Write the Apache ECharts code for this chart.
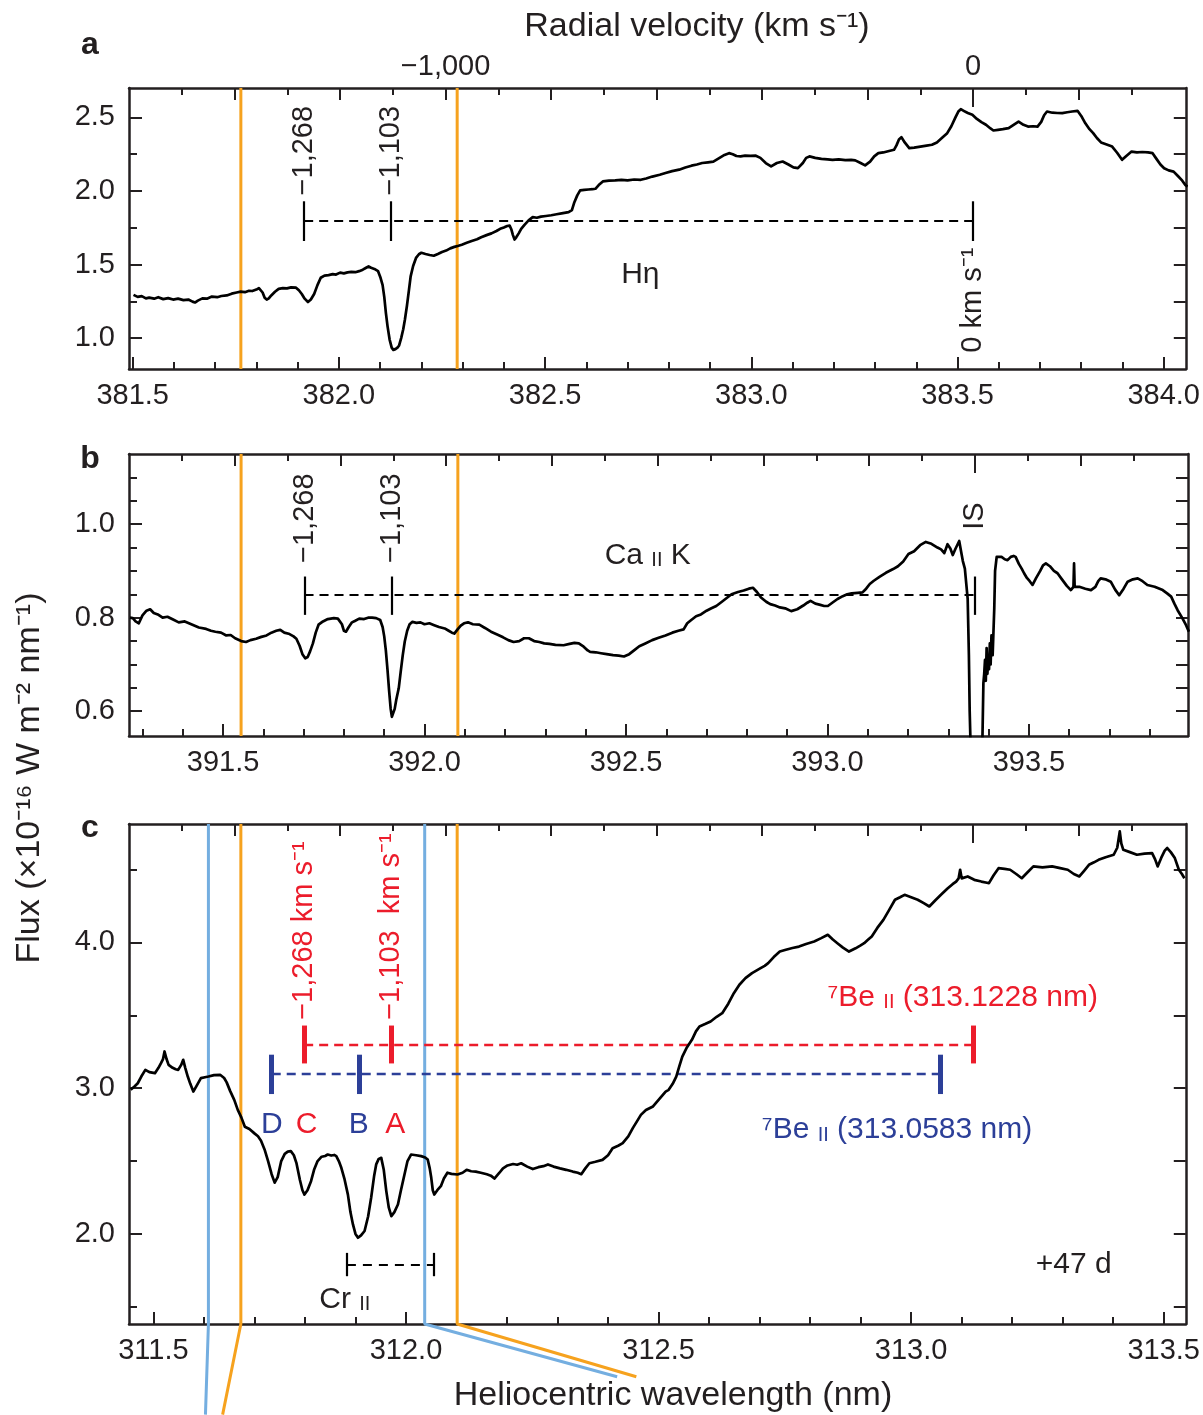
<!DOCTYPE html>
<html><head><meta charset="utf-8">
<script src="https://cdn.jsdelivr.net/npm/echarts@6/dist/echarts.min.js"></script>
<style>html,body{margin:0;padding:0;background:#fff}#chart{width:1203px;height:1415px}</style>
</head><body><div id="chart"></div>
<script>
// ---------- constants & data ----------
const C_KMS = 299792.458;
const REST_HETA = 383.538, REST_CAK = 393.366, REST_BE_RED = 313.1228, REST_BE_BLUE = 313.0583;
const VEL_WINDOW = [-1600, 403];          // km/s at left / right plot edges (all panels aligned)
const VEL_MARKS = [-1268, -1103, 0];      // velocity markers
const VEL_BAND = [-1388, -978];           // orange / blue band
const VEL_TICKS_MAJOR = [-1400, -1200, -1000, -800, -600, -400, -200, 200];
const VEL_TICKS_MINOR = [-1500, -1300, -1100, -900, -700, -500, -300, -100, 100, 300];
const VEL_TICK_ZERO = [0];
const VEL_LABELS = [-1000, 0];

const WL_LAB_A = [381.5, 382.0, 382.5, 383.0, 383.5, 384.0];
const WL_LAB_B = [391.5, 392.0, 392.5, 393.0, 393.5];
const WL_LAB_C = [311.5, 312.0, 312.5, 313.0, 313.5];

const Y_RANGE_A = [0.79, 2.70], Y_LAB_A = [1.0, 1.5, 2.0, 2.5], Y_MINOR_A = [1.25, 1.75, 2.25];
const Y_RANGE_B = [0.547, 1.15], Y_LAB_B = [0.6, 0.8, 1.0], Y_MINOR_B = [0.65, 0.7, 0.75, 0.85, 0.9, 0.95, 1.05, 1.1];
const Y_RANGE_C = [1.382, 4.813], Y_LAB_C = [2.0, 3.0, 4.0], Y_MINOR_C = [1.5, 2.5, 3.5, 4.5];

const SPEC_A = [[381.502,1.294],[381.512,1.28],[381.522,1.285],[381.532,1.27],[381.540,1.275],[381.552,1.268],[381.562,1.278],[381.574,1.265],[381.586,1.272],[381.598,1.262],[381.610,1.268],[381.623,1.258],[381.635,1.262],[381.645,1.248],[381.651,1.242],[381.658,1.255],[381.669,1.27],[381.680,1.268],[381.692,1.282],[381.705,1.278],[381.715,1.286],[381.728,1.29],[381.740,1.302],[381.752,1.31],[381.762,1.316],[381.772,1.312],[381.782,1.322],[381.790,1.32],[381.800,1.33],[381.806,1.34],[381.810,1.35],[381.815,1.31],[381.820,1.275],[381.825,1.262],[381.830,1.27],[381.836,1.29],[381.845,1.315],[381.854,1.335],[381.864,1.34],[381.874,1.338],[381.884,1.345],[381.896,1.343],[381.903,1.325],[381.910,1.30],[381.917,1.268],[381.925,1.245],[381.932,1.262],[381.940,1.3],[381.948,1.36],[381.956,1.41],[381.965,1.425],[381.975,1.428],[381.985,1.435],[381.993,1.432],[382.003,1.445],[382.012,1.44],[382.021,1.447],[382.030,1.45],[382.040,1.448],[382.049,1.455],[382.058,1.465],[382.066,1.478],[382.072,1.487],[382.078,1.478],[382.086,1.47],[382.095,1.455],[382.101,1.41],[382.106,1.36],[382.110,1.28],[382.114,1.17],[382.118,1.08],[382.123,0.99],[382.128,0.935],[382.132,0.92],[382.137,0.925],[382.142,0.935],[382.146,0.95],[382.151,1.0],[382.156,1.06],[382.160,1.125],[382.165,1.22],[382.170,1.33],[382.174,1.42],[382.180,1.49],[382.187,1.545],[382.194,1.57],[382.200,1.58],[382.210,1.572],[382.220,1.565],[382.230,1.56],[382.240,1.572],[382.250,1.585],[382.260,1.595],[382.270,1.61],[382.280,1.62],[382.290,1.628],[382.298,1.635],[382.310,1.648],[382.322,1.66],[382.335,1.672],[382.345,1.686],[382.358,1.70],[382.370,1.712],[382.382,1.728],[382.391,1.743],[382.400,1.752],[382.408,1.762],[382.414,1.765],[382.418,1.74],[382.422,1.7],[382.426,1.67],[382.430,1.685],[382.436,1.712],[382.442,1.743],[382.450,1.77],[382.460,1.80],[382.470,1.822],[382.480,1.818],[382.490,1.826],[382.502,1.83],[382.515,1.835],[382.528,1.842],[382.540,1.848],[382.557,1.856],[382.565,1.87],[382.571,1.924],[382.578,1.97],[382.585,2.004],[382.595,2.008],[382.605,2.01],[382.615,2.012],[382.622,2.015],[382.630,2.04],[382.640,2.065],[382.655,2.07],[382.670,2.072],[382.685,2.075],[382.700,2.072],[382.716,2.078],[382.732,2.076],[382.745,2.085],[382.760,2.098],[382.778,2.11],[382.792,2.122],[382.808,2.135],[382.825,2.145],[382.840,2.16],[382.855,2.172],[382.868,2.18],[382.881,2.19],[382.895,2.195],[382.908,2.2],[382.920,2.22],[382.935,2.245],[382.946,2.257],[382.955,2.25],[382.964,2.238],[382.974,2.235],[382.985,2.24],[382.998,2.238],[383.011,2.24],[383.022,2.225],[383.035,2.19],[383.048,2.167],[383.062,2.19],[383.076,2.2],[383.090,2.18],[383.102,2.16],[383.113,2.155],[383.125,2.19],[383.133,2.225],[383.141,2.235],[383.155,2.225],[383.170,2.218],[383.185,2.215],[383.197,2.212],[383.212,2.215],[383.228,2.21],[383.242,2.212],[383.252,2.208],[383.265,2.19],[383.276,2.174],[383.288,2.2],[383.298,2.235],[383.308,2.257],[383.320,2.262],[383.334,2.272],[383.346,2.28],[383.352,2.31],[383.358,2.35],[383.364,2.366],[383.372,2.33],[383.383,2.291],[383.395,2.295],[383.410,2.302],[383.425,2.308],[383.438,2.314],[383.450,2.33],[383.462,2.36],[383.475,2.393],[383.485,2.44],[383.495,2.5],[383.502,2.54],[383.508,2.556],[383.515,2.545],[383.525,2.53],[383.536,2.518],[383.547,2.49],[383.558,2.468],[383.569,2.45],[383.580,2.425],[383.587,2.411],[383.598,2.415],[383.610,2.42],[383.624,2.427],[383.636,2.45],[383.648,2.472],[383.660,2.45],[383.671,2.438],[383.683,2.44],[383.694,2.438],[383.703,2.47],[383.710,2.515],[383.717,2.54],[383.730,2.532],[383.742,2.53],[383.754,2.529],[383.766,2.535],[383.778,2.54],[383.791,2.545],[383.800,2.51],[383.810,2.46],[383.820,2.42],[383.829,2.393],[383.838,2.36],[383.848,2.33],[383.860,2.318],[383.875,2.302],[383.887,2.26],[383.899,2.212],[383.910,2.24],[383.922,2.268],[383.935,2.262],[383.948,2.265],[383.962,2.262],[383.973,2.257],[383.982,2.22],[383.992,2.18],[384.001,2.155],[384.012,2.14],[384.024,2.132],[384.035,2.1],[384.045,2.07],[384.052,2.042],[384.058,2.03]];

const SPEC_B = [[391.269,0.80],[391.276,0.799],[391.283,0.792],[391.291,0.788],[391.300,0.805],[391.310,0.815],[391.319,0.818],[391.328,0.81],[391.338,0.807],[391.350,0.80],[391.362,0.802],[391.376,0.796],[391.390,0.79],[391.405,0.792],[391.424,0.785],[391.440,0.779],[391.458,0.776],[391.470,0.772],[391.481,0.77],[391.495,0.768],[391.508,0.762],[391.519,0.763],[391.530,0.756],[391.545,0.75],[391.557,0.748],[391.568,0.752],[391.582,0.755],[391.595,0.759],[391.608,0.762],[391.620,0.768],[391.632,0.772],[391.642,0.774],[391.652,0.768],[391.665,0.765],[391.675,0.76],[391.682,0.755],[391.690,0.74],[391.697,0.722],[391.704,0.713],[391.710,0.716],[391.716,0.728],[391.723,0.745],[391.730,0.768],[391.737,0.785],[391.748,0.792],[391.760,0.797],[391.775,0.799],[391.785,0.798],[391.795,0.786],[391.800,0.772],[391.805,0.77],[391.812,0.78],[391.820,0.79],[391.827,0.793],[391.838,0.798],[391.850,0.797],[391.860,0.8],[391.870,0.8],[391.880,0.799],[391.890,0.795],[391.896,0.78],[391.900,0.76],[391.904,0.73],[391.908,0.69],[391.912,0.645],[391.916,0.605],[391.919,0.588],[391.922,0.59],[391.926,0.605],[391.930,0.625],[391.936,0.649],[391.941,0.685],[391.946,0.72],[391.951,0.749],[391.957,0.772],[391.963,0.786],[391.970,0.791],[391.980,0.789],[391.990,0.79],[392.000,0.786],[392.012,0.788],[392.024,0.784],[392.036,0.78],[392.050,0.777],[392.060,0.772],[392.068,0.768],[392.074,0.766],[392.082,0.775],[392.090,0.783],[392.098,0.788],[392.108,0.79],[392.120,0.786],[392.136,0.785],[392.150,0.778],[392.165,0.77],[392.183,0.763],[392.195,0.758],[392.208,0.752],[392.221,0.748],[392.235,0.75],[392.247,0.756],[392.259,0.756],[392.272,0.75],[392.285,0.748],[392.297,0.745],[392.310,0.744],[392.325,0.742],[392.345,0.741],[392.360,0.744],[392.372,0.746],[392.383,0.745],[392.395,0.738],[392.405,0.73],[392.411,0.727],[392.425,0.726],[392.438,0.724],[392.452,0.722],[392.468,0.72],[392.482,0.719],[392.495,0.717],[392.508,0.722],[392.520,0.73],[392.533,0.739],[392.548,0.745],[392.565,0.752],[392.581,0.757],[392.598,0.762],[392.615,0.768],[392.630,0.772],[392.643,0.775],[392.652,0.788],[392.662,0.795],[392.674,0.803],[392.686,0.807],[392.700,0.815],[392.712,0.82],[392.724,0.825],[392.738,0.834],[392.750,0.842],[392.762,0.85],[392.778,0.855],[392.792,0.858],[392.805,0.862],[392.815,0.864],[392.825,0.855],[392.835,0.843],[392.848,0.834],[392.858,0.829],[392.870,0.826],[392.882,0.822],[392.895,0.82],[392.910,0.814],[392.925,0.818],[392.940,0.826],[392.950,0.832],[392.958,0.836],[392.970,0.83],[392.980,0.828],[392.992,0.825],[393.001,0.825],[393.012,0.832],[393.025,0.84],[393.038,0.846],[393.049,0.85],[393.060,0.852],[393.075,0.853],[393.087,0.854],[393.096,0.862],[393.105,0.872],[393.115,0.879],[393.130,0.888],[393.145,0.896],[393.163,0.904],[393.175,0.91],[393.188,0.92],[393.201,0.936],[393.215,0.942],[393.230,0.955],[393.244,0.962],[393.258,0.958],[393.273,0.95],[393.282,0.946],[393.290,0.938],[393.298,0.957],[393.305,0.948],[393.311,0.934],[393.318,0.948],[393.327,0.964],[393.332,0.94],[393.336,0.921],[393.341,0.905],[393.344,0.902],[393.348,0.84],[393.351,0.72],[393.353,0.60],[393.356,0.50],[393.365,0.45],[393.375,0.45],[393.383,0.47],[393.385,0.56],[393.387,0.66],[393.389,0.68],[393.391,0.71],[393.393,0.665],[393.395,0.735],[393.397,0.68],[393.399,0.72],[393.401,0.69],[393.403,0.745],[393.405,0.7],[393.407,0.762],[393.410,0.72],[393.412,0.716],[393.414,0.82],[393.416,0.9],[393.420,0.93],[393.424,0.934],[393.432,0.93],[393.440,0.925],[393.447,0.923],[393.455,0.93],[393.462,0.932],[393.467,0.93],[393.475,0.915],[393.482,0.905],[393.488,0.895],[393.495,0.885],[393.502,0.878],[393.509,0.870],[393.518,0.885],[393.528,0.9],[393.535,0.912],[393.542,0.916],[393.552,0.91],[393.562,0.9],[393.571,0.895],[393.582,0.882],[393.594,0.868],[393.604,0.859],[393.6105,0.866],[393.612,0.916],[393.6135,0.866],[393.625,0.866],[393.640,0.862],[393.654,0.859],[393.665,0.866],[393.672,0.878],[393.678,0.884],[393.690,0.882],[393.703,0.877],[393.714,0.86],[393.724,0.848],[393.735,0.862],[393.745,0.877],[393.758,0.882],[393.770,0.884],[393.782,0.878],[393.794,0.87],[393.812,0.866],[393.832,0.859],[393.843,0.852],[393.853,0.845],[393.861,0.83],[393.869,0.816],[393.880,0.8],[393.890,0.784],[393.897,0.77]];

const SPEC_C = [[311.455,2.99],[311.462,3.01],[311.469,3.034],[311.476,3.08],[311.484,3.126],[311.492,3.11],[311.503,3.103],[311.510,3.14],[311.515,3.172],[311.519,3.2],[311.522,3.252],[311.526,3.2],[311.530,3.16],[311.538,3.14],[311.544,3.13],[311.549,3.126],[311.555,3.16],[311.559,3.195],[311.563,3.14],[311.568,3.08],[311.573,3.03],[311.579,2.977],[311.586,3.02],[311.594,3.069],[311.602,3.075],[311.609,3.08],[311.620,3.09],[311.632,3.092],[311.640,3.07],[311.645,3.04],[311.652,2.98],[311.660,2.92],[311.667,2.851],[311.674,2.8],[311.681,2.736],[311.690,2.72],[311.700,2.69],[311.707,2.67],[311.713,2.64],[311.720,2.58],[311.727,2.5],[311.734,2.41],[311.740,2.352],[311.746,2.39],[311.753,2.5],[311.760,2.55],[311.766,2.565],[311.772,2.568],[311.778,2.54],[311.783,2.488],[311.790,2.37],[311.795,2.3],[311.799,2.27],[311.805,2.3],[311.812,2.362],[311.818,2.44],[311.825,2.5],[311.833,2.53],[311.840,2.535],[311.845,2.545],[311.852,2.538],[311.858,2.542],[311.862,2.534],[311.867,2.5],[311.872,2.454],[311.878,2.38],[311.885,2.27],[311.890,2.15],[311.895,2.065],[311.900,2.0],[311.905,1.974],[311.911,1.99],[311.918,2.02],[311.925,2.12],[311.931,2.248],[311.937,2.4],[311.941,2.477],[311.946,2.515],[311.951,2.522],[311.956,2.44],[311.961,2.294],[311.966,2.18],[311.971,2.122],[311.977,2.15],[311.984,2.202],[311.990,2.3],[311.997,2.408],[312.003,2.5],[312.010,2.545],[312.020,2.54],[312.030,2.534],[312.038,2.525],[312.043,2.511],[312.047,2.45],[312.050,2.385],[312.053,2.3],[312.056,2.27],[312.062,2.3],[312.069,2.328],[312.075,2.38],[312.082,2.42],[312.090,2.412],[312.102,2.408],[312.112,2.42],[312.120,2.44],[312.129,2.43],[312.138,2.428],[312.148,2.42],[312.160,2.41],[312.168,2.4],[312.175,2.38],[312.185,2.42],[312.192,2.45],[312.201,2.47],[312.212,2.48],[312.220,2.475],[312.228,2.485],[312.240,2.462],[312.251,2.445],[312.262,2.458],[312.272,2.465],[312.281,2.477],[312.292,2.462],[312.305,2.45],[312.317,2.44],[312.330,2.428],[312.340,2.42],[312.347,2.41],[312.355,2.45],[312.363,2.485],[312.375,2.495],[312.389,2.508],[312.400,2.54],[312.409,2.588],[312.420,2.605],[312.429,2.623],[312.440,2.669],[312.449,2.726],[312.459,2.783],[312.465,2.817],[312.475,2.85],[312.489,2.875],[312.500,2.92],[312.514,2.977],[312.520,2.989],[312.528,3.03],[312.535,3.08],[312.541,3.15],[312.547,3.217],[312.556,3.28],[312.566,3.332],[312.574,3.39],[312.581,3.424],[312.592,3.44],[312.603,3.458],[312.615,3.49],[312.626,3.515],[312.638,3.58],[312.649,3.652],[312.660,3.71],[312.672,3.755],[312.685,3.79],[312.702,3.824],[312.710,3.84],[312.717,3.858],[312.728,3.9],[312.740,3.938],[312.752,3.95],[312.765,3.962],[312.778,3.972],[312.792,3.99],[312.808,4.007],[312.822,4.03],[312.835,4.053],[312.845,4.02],[312.854,3.995],[312.865,3.965],[312.877,3.938],[312.890,3.96],[312.900,3.98],[312.907,3.995],[312.915,4.02],[312.922,4.041],[312.933,4.1],[312.945,4.155],[312.956,4.22],[312.968,4.293],[312.978,4.31],[312.987,4.327],[313.000,4.31],[313.013,4.293],[313.025,4.27],[313.036,4.247],[313.048,4.29],[313.059,4.327],[313.072,4.37],[313.082,4.4],[313.089,4.418],[313.094,4.44],[313.097,4.499],[313.100,4.44],[313.112,4.453],[313.125,4.43],[313.139,4.418],[313.150,4.41],[313.154,4.407],[313.163,4.46],[313.173,4.51],[313.185,4.505],[313.196,4.499],[313.208,4.47],[313.219,4.441],[313.230,4.48],[313.242,4.522],[313.260,4.515],[313.279,4.522],[313.295,4.51],[313.310,4.499],[313.322,4.47],[313.333,4.453],[313.342,4.49],[313.352,4.533],[313.362,4.55],[313.371,4.567],[313.385,4.585],[313.401,4.602],[313.408,4.65],[313.413,4.762],[313.416,4.68],[313.420,4.636],[313.433,4.62],[313.447,4.602],[313.462,4.61],[313.477,4.613],[313.483,4.57],[313.488,4.522],[313.495,4.58],[313.502,4.63],[313.507,4.648],[313.514,4.62],[313.522,4.579],[313.530,4.499],[313.536,4.47],[313.541,4.441]];

// marker levels (flux units)
const MARK_Y_A = 1.8, MARK_TICK_A = [1.66, 1.93];
const MARK_Y_B = 0.85, MARK_TICK_B = [0.806, 0.888];
const MARK_Y_RED = 3.3, MARK_TICK_RED = [3.17, 3.43];
const MARK_Y_BLUE = 3.1, MARK_TICK_BLUE = [2.96, 3.23];
const CR_II_WL = [311.883, 312.054], CR_II_Y = 1.79, CR_II_TICK = [1.71, 1.87];
// connector end points below panel c (wavelength, flux)
const CONN_ORANGE_L = [311.637, 0.76], CONN_BLUE_L = [311.603, 0.76];
const CONN_ORANGE_R = [312.456, 1.02], CONN_BLUE_R = [312.418, 1.02];

// ---------- styling ----------
const INK = '#231f20', ORANGE = '#f6a21e', LBLUE = '#74aee0', RED = '#ec1c2b', NAVY = '#2c3f98';
const FONT = '"Liberation Sans", Arial, Helvetica, sans-serif';
const wl = (rest, v) => rest * (1 + v / C_KMS);
const r4 = v => Math.round(v * 10000) / 10000;

function minorTicks(range, step, majorStep) {
  const out = [];
  for (let k = Math.ceil(range[0] / step - 1e-9); k * step <= range[1] + 1e-9; k++) {
    const v = r4(k * step);
    if (Math.abs(v / majorStep - Math.round(v / majorStep)) > 1e-6) out.push(v);
  }
  return out;
}

const panels = [
  {rest: REST_HETA, top: 88, height: 281, yRange: Y_RANGE_A, yLab: Y_LAB_A, yMinor: Y_MINOR_A, wlLab: WL_LAB_A, spec: SPEC_A, velLabels: true},
  {rest: REST_CAK, top: 454, height: 282, yRange: Y_RANGE_B, yLab: Y_LAB_B, yMinor: Y_MINOR_B, wlLab: WL_LAB_B, spec: SPEC_B, velLabels: false},
  {rest: REST_BE_RED, top: 824, height: 500, yRange: Y_RANGE_C, yLab: Y_LAB_C, yMinor: Y_MINOR_C, wlLab: WL_LAB_C, spec: SPEC_C, velLabels: false}
];

const xAxis = [], yAxis = [], series = [];
const lineAx = {show: true, onZero: false, lineStyle: {color: INK, width: 2.5}};
const lab = (extra) => Object.assign({color: INK, fontSize: 29, fontFamily: FONT}, extra);

panels.forEach((p, g) => {
  const xr = [wl(p.rest, VEL_WINDOW[0]), wl(p.rest, VEL_WINDOW[1])];
  p.xr = xr;
  const velFmt = val => {
    const v = Math.round((val / p.rest - 1) * C_KMS / 10) * 10;
    return v === 0 ? '0' : (v < 0 ? '\u2212' : '') + Math.abs(v).toLocaleString('en-US');
  };
  const base = {type: 'value', gridIndex: g, min: xr[0], max: xr[1], splitLine: {show: false}};
  xAxis.push(Object.assign({}, base, {position: 'bottom', axisLine: lineAx,
    axisTick: {show: true, inside: true, length: 12, customValues: p.wlLab, lineStyle: {color: INK, width: 2}},
    axisLabel: lab({show: true, customValues: p.wlLab, formatter: v => v.toFixed(1), margin: 12})}));
  xAxis.push(Object.assign({}, base, {position: 'bottom', axisLine: {show: false},
    axisTick: {show: true, inside: true, length: 7, customValues: minorTicks(xr, 0.1, 0.5), lineStyle: {color: INK, width: 2}},
    axisLabel: {show: false}}));
  xAxis.push(Object.assign({}, base, {position: 'top', axisLine: lineAx,
    axisTick: {show: true, inside: true, length: 12, customValues: VEL_TICKS_MAJOR.map(v => wl(p.rest, v)), lineStyle: {color: INK, width: 2}},
    axisLabel: p.velLabels ? lab({show: true, customValues: VEL_LABELS.map(v => wl(p.rest, v)), formatter: velFmt, margin: 7}) : {show: false}}));
  xAxis.push(Object.assign({}, base, {position: 'top', axisLine: {show: false},
    axisTick: {show: true, inside: true, length: 7, customValues: VEL_TICKS_MINOR.map(v => wl(p.rest, v)), lineStyle: {color: INK, width: 2}},
    axisLabel: {show: false}}));
  xAxis.push(Object.assign({}, base, {position: 'top', axisLine: {show: false},
    axisTick: {show: true, inside: true, length: 19, customValues: VEL_TICK_ZERO.map(v => wl(p.rest, v)), lineStyle: {color: INK, width: 2}},
    axisLabel: {show: false}}));

  const ybase = {type: 'value', gridIndex: g, min: p.yRange[0], max: p.yRange[1], splitLine: {show: false}};
  yAxis.push(Object.assign({}, ybase, {position: 'left', axisLine: lineAx,
    axisTick: {show: true, inside: true, length: 13, customValues: p.yLab, lineStyle: {color: INK, width: 2}},
    axisLabel: lab({show: true, customValues: p.yLab, formatter: v => v.toFixed(1), margin: 14})}));
  yAxis.push(Object.assign({}, ybase, {position: 'left', axisLine: {show: false},
    axisTick: {show: true, inside: true, length: 8, customValues: p.yMinor, lineStyle: {color: INK, width: 2}},
    axisLabel: {show: false}}));
  yAxis.push(Object.assign({}, ybase, {position: 'right', axisLine: lineAx,
    axisTick: {show: true, inside: true, length: 12, customValues: p.yLab.concat(p.yMinor), lineStyle: {color: INK, width: 2}},
    axisLabel: {show: false}}));

  p.xi = g * 5; p.yi = g * 3;
});

function vline(p, x, color, extra) {
  const pts = [[x, p.yRange[1]], [x, p.yRange[0]]];
  if (extra) pts.push(extra);
  series.push({type: 'line', xAxisIndex: p.xi, yAxisIndex: p.yi, data: pts, showSymbol: false, symbol: 'none',
    clip: !extra, silent: true, z: 2, lineStyle: {color: color, width: 3}});
}

vline(panels[0], wl(REST_HETA, VEL_BAND[0]), ORANGE);
vline(panels[0], wl(REST_HETA, VEL_BAND[1]), ORANGE);
vline(panels[1], wl(REST_CAK, VEL_BAND[0]), ORANGE);
vline(panels[1], wl(REST_CAK, VEL_BAND[1]), ORANGE);
vline(panels[2], wl(REST_BE_BLUE, VEL_BAND[0]), LBLUE, CONN_BLUE_L);
vline(panels[2], wl(REST_BE_BLUE, VEL_BAND[1]), LBLUE, CONN_BLUE_R);
vline(panels[2], wl(REST_BE_RED, VEL_BAND[0]), ORANGE, CONN_ORANGE_L);
vline(panels[2], wl(REST_BE_RED, VEL_BAND[1]), ORANGE, CONN_ORANGE_R);

panels.forEach(p => {
  series.push({type: 'line', xAxisIndex: p.xi, yAxisIndex: p.yi, data: p.spec, showSymbol: false, symbol: 'none',
    silent: true, z: 5, lineStyle: {color: '#000', width: 2.7, join: 'round'}});
});

function comb(p, rest, y, tick, color, tickW, dashW) {
  const d = [];
  d.push({coords: [[wl(rest, VEL_MARKS[0]), y], [wl(rest, 0), y]], lineStyle: {type: [9, 6], width: dashW, color: color}});
  VEL_MARKS.forEach(v => d.push({coords: [[wl(rest, v), tick[0]], [wl(rest, v), tick[1]]], lineStyle: {type: 'solid', width: tickW, color: color}}));
  series.push({type: 'lines', coordinateSystem: 'cartesian2d', xAxisIndex: p.xi, yAxisIndex: p.yi, polyline: false,
    silent: true, z: 4, data: d, lineStyle: {color: color, width: 2, opacity: 1}, effect: {show: false}});
}
comb(panels[0], REST_HETA, MARK_Y_A, MARK_TICK_A, '#000', 2.2, 2.2);
comb(panels[1], REST_CAK, MARK_Y_B, MARK_TICK_B, '#000', 2.2, 2.2);
comb(panels[2], REST_BE_RED, MARK_Y_RED, MARK_TICK_RED, RED, 5, 2.4);
comb(panels[2], REST_BE_BLUE, MARK_Y_BLUE, MARK_TICK_BLUE, NAVY, 5, 2.4);
series.push({type: 'lines', coordinateSystem: 'cartesian2d', xAxisIndex: panels[2].xi, yAxisIndex: panels[2].yi, polyline: false,
  silent: true, z: 4, effect: {show: false}, lineStyle: {color: '#000', width: 2, opacity: 1},
  data: [
    {coords: [[CR_II_WL[0], CR_II_Y], [CR_II_WL[1], CR_II_Y]], lineStyle: {type: [9, 7], width: 2.2, color: '#000'}},
    {coords: [[CR_II_WL[0], CR_II_TICK[0]], [CR_II_WL[0], CR_II_TICK[1]]], lineStyle: {type: 'solid', width: 2.2, color: '#000'}},
    {coords: [[CR_II_WL[1], CR_II_TICK[0]], [CR_II_WL[1], CR_II_TICK[1]]], lineStyle: {type: 'solid', width: 2.2, color: '#000'}}
  ]});

const richBase = (color, size) => ({
  n: {color: color, fontSize: size, fontFamily: FONT, lineHeight: Math.round(size * 1.2), verticalAlign: 'bottom'},
  sc: {color: color, fontSize: Math.round(size * 0.66), fontFamily: FONT, lineHeight: Math.round(size * 1.2 - 0.68 * size * 0.34), verticalAlign: 'bottom'}
});
function txt(x, y, text, o) {
  o = o || {};
  const color = o.color || INK, size = o.size || 29;
  return {value: [x, y], label: {show: true, position: 'inside', formatter: text, rotate: o.rotate || 0,
    align: o.align || 'center', verticalAlign: 'middle', color: color, fontSize: size, fontFamily: FONT, opacity: 1,
    rich: richBase(color, size)}};
}
function labelSeries(p, items) {
  series.push({type: 'scatter', xAxisIndex: p.xi, yAxisIndex: p.yi, symbolSize: 1, silent: true, z: 6,
    itemStyle: {color: 'rgba(0,0,0,0)', opacity: 1}, data: items});
}
labelSeries(panels[0], [
  txt(wl(REST_HETA, -1268), 1.97, '\u22121,268', {rotate: 90, align: 'left'}),
  txt(wl(REST_HETA, -1103), 1.97, '\u22121,103', {rotate: 90, align: 'left'}),
  txt(wl(REST_HETA, 0), 1.615, '0 km s\u207B\u00B9', {rotate: 90, align: 'right'}),
  txt(382.731, 1.43, 'H\u03B7', {size: 30})
]);
labelSeries(panels[1], [
  txt(wl(REST_CAK, -1268), 0.917, '\u22121,268', {rotate: 90, align: 'left'}),
  txt(wl(REST_CAK, -1103), 0.917, '\u22121,103', {rotate: 90, align: 'left'}),
  txt(wl(REST_CAK, 0), 0.988, 'IS', {rotate: 90, align: 'left'}),
  txt(392.554, 0.939, '{n|Ca }{sc|II}{n| K}', {size: 30})
]);
labelSeries(panels[2], [
  txt(wl(REST_BE_RED, -1268), 3.469, '\u22121,268 km s\u207B\u00B9', {rotate: 90, align: 'left', color: RED}),
  txt(wl(REST_BE_RED, -1103), 3.469, '\u22121,103  km s\u207B\u00B9', {rotate: 90, align: 'left', color: RED}),
  txt(wl(REST_BE_BLUE, -1268), 2.75, 'D', {color: NAVY, size: 30}),
  txt(wl(REST_BE_RED, -1268) + 0.005, 2.75, 'C', {color: RED, size: 30}),
  txt(wl(REST_BE_BLUE, -1103), 2.75, 'B', {color: NAVY, size: 30}),
  txt(wl(REST_BE_RED, -1103) + 0.008, 2.75, 'A', {color: RED, size: 30}),
  txt(313.102, 3.64, '{n|\u2077Be }{sc|II}{n| (313.1228 nm)}', {color: RED, size: 30}),
  txt(312.972, 2.733, '{n|\u2077Be }{sc|II}{n| (313.0583 nm)}', {color: NAVY, size: 30}),
  txt(311.879, 1.57, '{n|Cr }{sc|II}', {size: 30}),
  txt(313.322, 1.79, '+47 d', {size: 30})
]);

const gText = (x, y, text, size, weight, rot) => ({type: 'text', x: x, y: y, rotation: rot || 0, silent: true,
  style: {text: text, fill: INK, font: (weight || 'normal') + ' ' + size + 'px ' + FONT, align: 'center', verticalAlign: 'middle'}});

const option = {
  animation: false,
  backgroundColor: '#ffffff',
  grid: panels.map(p => ({left: 129, width: 1059, top: p.top, height: p.height})),
  xAxis: xAxis, yAxis: yAxis, series: series,
  graphic: [
    gText(90, 45, 'a', 32, 'bold'),
    gText(90, 459, 'b', 32, 'bold'),
    gText(90, 828, 'c', 32, 'bold'),
    gText(697, 27, 'Radial velocity (km s\u207B\u00B9)', 34),
    gText(673, 1396, 'Heliocentric wavelength (nm)', 34),
    gText(30, 778, 'Flux (\u00D710\u207B\u00B9\u2076 W m\u207B\u00B2 nm\u207B\u00B9)', 34, 'normal', Math.PI / 2)
  ]
};
const chart = echarts.init(document.getElementById('chart'), null, {renderer: 'canvas'});
chart.setOption(option);
</script>
</body></html>
